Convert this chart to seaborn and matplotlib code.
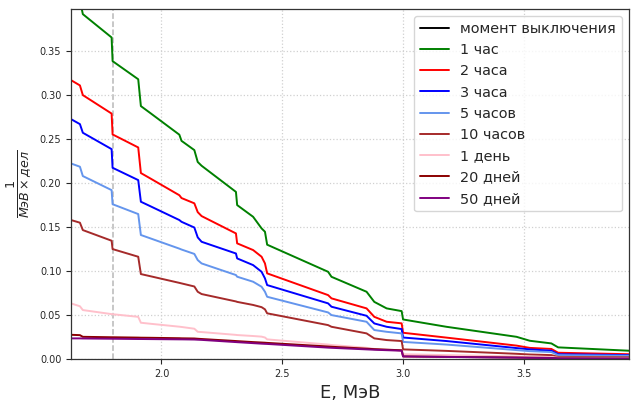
import numpy as np
import pandas as pd
import matplotlib
matplotlib.use("Agg")
import matplotlib.pyplot as plt
import seaborn as sns

# Energy grid (MeV); pairs of close points mark the step edges of the spectra
energy = [1.626, 1.663, 1.675, 1.794, 1.798, 1.904, 1.915, 1.952, 2.074, 2.083,
          2.136, 2.150, 2.166, 2.308, 2.313, 2.379, 2.414, 2.428, 2.437, 2.689,
          2.703, 2.848, 2.880, 2.931, 2.993, 2.999, 3.178, 3.468, 3.523, 3.612,
          3.640, 3.933]

series_names = ["момент выключения", "1 час", "2 часа", "3 часа", "5 часов",
                "10 часов", "1 день", "20 дней", "50 дней"]
series_colors = ["black", "green", "red", "blue", "cornflowerblue",
                 "brown", "pink", "darkred", "purple"]

# Shutdown spectrum lies above the plotted range
shutdown = [1.45, 1.42, 1.38, 1.33, 1.25, 1.20, 1.12, 1.10, 1.03, 1.01,
            0.98, 0.94, 0.93, 0.86, 0.82, 0.79, 0.76, 0.75, 0.71, 0.64,
            0.62, 0.58, 0.55, 0.53, 0.52, 0.49, 0.47, 0.45, 0.44, 0.435,
            0.425, 0.42]
h1 = [0.416, 0.408, 0.392, 0.3655, 0.3386, 0.318, 0.2875, 0.280, 0.255, 0.248,
      0.2375, 0.224, 0.2197, 0.190, 0.175, 0.1617, 0.1485, 0.1447, 0.130, 0.0992,
      0.0935, 0.0765, 0.065, 0.0576, 0.0545, 0.045, 0.0367, 0.0253, 0.0208, 0.0178,
      0.0133, 0.0095]
h2 = [0.317, 0.311, 0.300, 0.279, 0.2553, 0.2405, 0.2114, 0.2056, 0.1862, 0.183,
      0.177, 0.167, 0.1625, 0.1428, 0.1315, 0.1239, 0.1163, 0.1087, 0.0974, 0.0727,
      0.069, 0.0576, 0.048, 0.0424, 0.0406, 0.0299, 0.0244, 0.0153, 0.0127, 0.0115,
      0.0072, 0.0055]
h3 = [0.2727, 0.267, 0.2572, 0.2386, 0.2174, 0.2034, 0.1788, 0.174, 0.158, 0.156,
      0.1495, 0.1383, 0.1333, 0.120, 0.1144, 0.1068, 0.0992, 0.0917, 0.0841, 0.0633,
      0.0595, 0.0492, 0.0405, 0.0367, 0.0341, 0.0245, 0.0205, 0.0125, 0.0110, 0.0095,
      0.0055, 0.0045]
h5 = [0.2223, 0.2186, 0.208, 0.192, 0.176, 0.1648, 0.141, 0.1374, 0.1255, 0.1245,
      0.1195, 0.1125, 0.1087, 0.0955, 0.0936, 0.0879, 0.0822, 0.0765, 0.0708, 0.053,
      0.050, 0.0424, 0.033, 0.031, 0.0292, 0.0195, 0.0165, 0.0102, 0.0090, 0.0080,
      0.0045, 0.0038]
h10 = [0.158, 0.155, 0.1466, 0.1345, 0.125, 0.1163, 0.0966, 0.0943, 0.0866, 0.086,
       0.0825, 0.0765, 0.0739, 0.0655, 0.065, 0.0615, 0.0590, 0.0565, 0.052, 0.0386,
       0.0367, 0.0292, 0.0235, 0.0216, 0.0205, 0.011, 0.0093, 0.0060, 0.0052, 0.0045,
       0.0025, 0.0020]
d1 = [0.0633, 0.060, 0.0557, 0.0511, 0.051, 0.048, 0.0413, 0.0402, 0.0368, 0.0365,
      0.0345, 0.031, 0.0307, 0.0275, 0.0273, 0.0262, 0.0255, 0.0245, 0.0224, 0.0165,
      0.016, 0.0128, 0.0115, 0.0105, 0.0098, 0.0055, 0.0045, 0.0030, 0.0027, 0.0024,
      0.0015, 0.0012]
d20 = [0.0276, 0.0272, 0.0253, 0.0248, 0.0248, 0.0244, 0.0243, 0.0242, 0.0237, 0.0236,
       0.0234, 0.0231, 0.0228, 0.0205, 0.0204, 0.0193, 0.0188, 0.0186, 0.0184, 0.0143,
       0.0140, 0.0118, 0.0113, 0.0107, 0.0100, 0.0030, 0.0025, 0.0017, 0.0015, 0.0013,
       0.0008, 0.0006]
d50 = [0.0235, 0.0235, 0.0234, 0.0231, 0.0231, 0.0228, 0.0228, 0.0227, 0.0224, 0.0224,
       0.0222, 0.0220, 0.0218, 0.0193, 0.0192, 0.0181, 0.0175, 0.0173, 0.0172, 0.0130,
       0.0128, 0.0110, 0.0106, 0.0101, 0.0095, 0.0030, 0.0024, 0.0016, 0.0014, 0.0012,
       0.0007, 0.0005]

values = [shutdown, h1, h2, h3, h5, h10, d1, d20, d50]

df = pd.concat(
    [pd.DataFrame({"E": energy, "I": v, "series": name})
     for name, v in zip(series_names, values)],
    ignore_index=True,
)

sns.set_style("ticks")
plt.rcParams["font.family"] = ["DejaVu Sans"]

fig = plt.figure(figsize=(6.36, 4.03), dpi=100)
ax = fig.add_axes([0.1116, 0.109, 0.8774, 0.869])

sns.lineplot(data=df, x="E", y="I", hue="series", hue_order=series_names,
             palette=dict(zip(series_names, series_colors)),
             estimator=None, sort=False, linewidth=1.4, ax=ax)

ax.axvline(1.8, color="#b8b8b8", linestyle="--", linewidth=1.1, zorder=0)

ax.set_xlim(1.626, 3.933)
ax.set_ylim(0, 0.398)
ax.set_xticks([2.0, 2.5, 3.0, 3.5])
ax.set_yticks(np.arange(0, 0.36, 0.05))
ax.tick_params(labelsize=7)
ax.grid(True, linestyle=":", color="#d0d0d0", linewidth=0.9)
for sp in ax.spines.values():
    sp.set_color("#333333")
    sp.set_linewidth(0.9)

ax.set_xlabel("E, МэВ", fontsize=13)
ax.set_ylabel(r"$\frac{1}{МэВ \times дел}$", fontsize=13)

handles, labels = ax.get_legend_handles_labels()
ax.legend(handles, labels, loc="upper right", fontsize=10.4, frameon=True,
          borderaxespad=0.5)

fig.savefig("out.png", dpi=100)
